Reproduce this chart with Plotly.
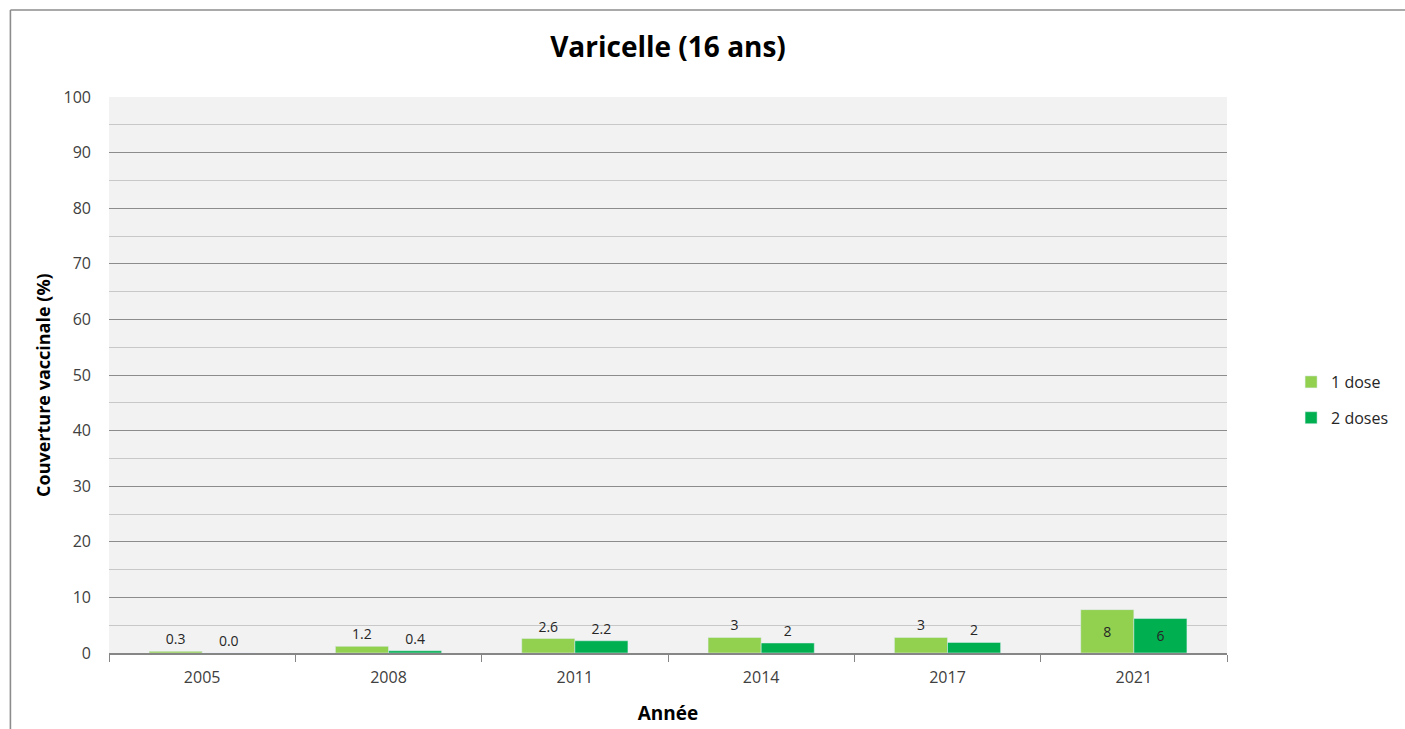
import plotly.graph_objects as go

years = ["2005", "2008", "2011", "2014", "2017", "2021"]
dose1 = [0.3, 1.2, 2.6, 2.8, 2.8, 7.8]
dose2 = [0.0, 0.4, 2.2, 1.8, 1.9, 6.2]
dose1_labels = ["0.3", "1.2", "2.6", "3", "3", "8"]
dose2_labels = ["0.0", "0.4", "2.2", "2", "2", "6"]
series_names = ["1 dose", "2 doses"]
y_ticks = [0, 10, 20, 30, 40, 50, 60, 70, 80, 90, 100]

FONT = "Open Sans"
positions = ["outside"] * 5 + ["inside"]

fig = go.Figure()
fig.add_trace(go.Bar(x=years, y=dose1, name=series_names[0], marker_color="#92D050",
                     legendgroup="a",
                     text=dose1_labels, textposition=positions, insidetextanchor="middle",
                     textfont=dict(family=FONT, size=14, color="#262626"), cliponaxis=False))
fig.add_trace(go.Bar(x=years, y=dose2, name=series_names[1], marker_color="#00B050",
                     legendgroup="b",
                     text=dose2_labels, textposition=positions, insidetextanchor="middle",
                     textfont=dict(family=FONT, size=14, color="#262626"), cliponaxis=False))

W_PLOT = 1405 - 109 - 162
fig.update_layout(
    width=1405, height=729,
    margin=dict(l=109, r=162, t=97, b=76),
    paper_bgcolor="white", plot_bgcolor="#F2F2F2",
    barmode="group", bargap=0.43, bargroupgap=0,
    font=dict(family=FONT, color="#404040", size=16),
    title=dict(text="<b>Varicelle (16 ans)</b>", x=0.5, xref="paper", xanchor="center",
               y=1 - 47 / 729, yanchor="middle", font=dict(size=28, color="black", family=FONT)),
    legend=dict(x=(1308 - 109) / W_PLOT, y=0.455, xanchor="left", yanchor="middle",
                font=dict(size=16, color="#262626"), tracegroupgap=12, itemwidth=30,
                traceorder="grouped", bgcolor="rgba(0,0,0,0)"),
    showlegend=True,
)
fig.update_xaxes(
    type="category", showline=True, linecolor="#868686", linewidth=1.5,
    ticks="outside", tickson="boundaries", ticklen=7, tickcolor="#868686",
    ticklabelstandoff=9, automargin=False,
    tickfont=dict(size=16, color="#404040"), showgrid=False,
    title=dict(text="<b>Année</b>", font=dict(size=19, color="black"), standoff=20),
)
fig.update_yaxes(
    range=[0, 100], tickvals=y_ticks, showgrid=True, gridcolor="#8C8C8C", gridwidth=1.3,
    minor=dict(dtick=5, showgrid=True, gridcolor="#C8C8C8", gridwidth=1.3),
    zeroline=False, ticks="", ticklabelstandoff=17, automargin=False,
    tickfont=dict(size=16, color="#404040"),
)
fig.add_annotation(text="<b>Couverture vaccinale (%)</b>", textangle=-90,
                   xref="paper", yref="paper", x=(42 - 109) / W_PLOT, y=(653 - 385) / 556,
                   xanchor="center", yanchor="middle", showarrow=False,
                   font=dict(size=18, color="black", family=FONT))
# outer frame (left and top edges visible only)
fx0 = (9 - 109) / W_PLOT
fy1 = 1 + 87 / 556
fig.add_shape(type="line", xref="paper", yref="paper", x0=fx0, x1=fx0, y0=-0.5, y1=fy1,
              line=dict(color="#8C8C8C", width=1.6), layer="below")
fig.add_shape(type="line", xref="paper", yref="paper", x0=fx0, x1=1.5, y0=fy1, y1=fy1,
              line=dict(color="#8C8C8C", width=1.6), layer="below")

fig.write_html("out.html", config={"displayModeBar": False},
               post_script="document.body.style.margin='0px';document.body.style.overflow='hidden';")
